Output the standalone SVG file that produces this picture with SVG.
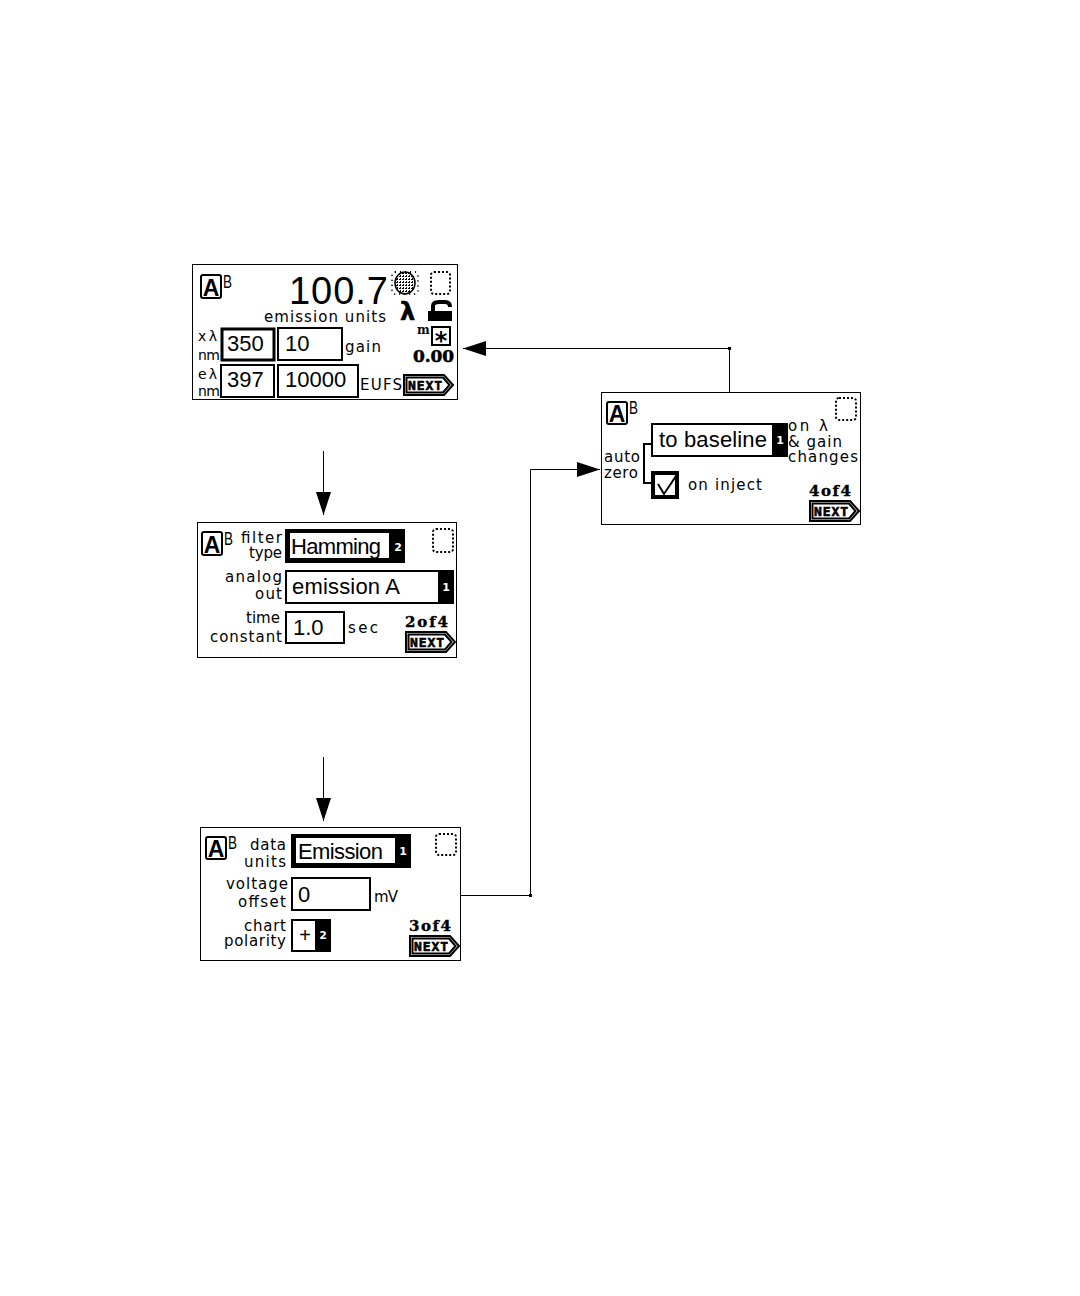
<svg xmlns="http://www.w3.org/2000/svg" width="1080" height="1296" viewBox="0 0 1080 1296">
<style>
text{font-family:"DejaVu Sans","Liberation Sans",sans-serif;fill:#000}
.panel{fill:#fff;stroke:#000;stroke-width:1}
.box{fill:#fff;stroke:#000;stroke-width:2}
.thick{fill:#fff;stroke:#000;stroke-width:4}
.black{fill:#000;stroke:none}
.dot{fill:none;stroke:#000;stroke-width:2;stroke-dasharray:2 2}
.lab{font-size:15px}
.r{text-anchor:end}
.val{font-family:"Liberation Sans",sans-serif;font-size:22px}
.idx{font-size:11px;font-weight:bold;fill:#fff;text-anchor:middle}
.logoA{font-family:"Liberation Sans",sans-serif;font-size:23px;font-weight:bold;text-anchor:middle}
.logoB{font-family:"Liberation Sans",sans-serif;font-size:19px}
.logoBox{fill:#fff;stroke:#000;stroke-width:2}
.page{font-family:"DejaVu Serif",serif;font-size:15px;font-weight:bold;stroke:#000;stroke-width:.4}
.nxt{font-family:"DejaVu Sans Mono",monospace;font-size:13px;font-weight:bold;stroke:#000;stroke-width:.6}
.nextshape{fill:#fff;stroke:#000;stroke-width:2}
.conn{fill:none;stroke:#000;stroke-width:1}
</style>
<defs>
<marker id="arrow" markerUnits="userSpaceOnUse" markerWidth="24" markerHeight="16" refX="23" refY="7.500" orient="auto">
<path d="M0 0L23 7.500L0 15Z" fill="#000"/>
</marker>
<pattern id="hatch" width="3" height="3" patternUnits="userSpaceOnUse">
<rect width="3" height="3" fill="#fff"/><rect width="2" height="1" fill="#000"/><rect y="2" x="1" width="1" height="1" fill="#000"/>
</pattern>
<path id="nextPath" d="M0 0H40L49 10L40 20H0ZM2.500 2.500H39L45.500 10L39 17.500H2.500Z"/>
</defs>

<g id="connectors">
<path class="conn" d="M323.500 451V515" marker-end="url(#arrow)"/>
<path class="conn" d="M323.500 757V821" marker-end="url(#arrow)"/>
<path class="conn" d="M461 895.500H530.500V469.500H600" marker-end="url(#arrow)"/>
<path class="conn" d="M729.500 392V348.500H463" marker-end="url(#arrow)"/>
<rect x="529" y="894" width="3" height="3" fill="#000"/>
<rect x="728" y="347" width="3" height="3" fill="#000"/>
</g>

<g id="panel-1">
<rect class="panel" x="192.500" y="264.500" width="265" height="135"/>
<rect class="logoBox" x="201" y="275" width="20" height="23" rx="2"/>
<text class="logoA" x="211" y="296">A</text><text class="logoB" x="223" y="288" textLength="9" lengthAdjust="spacingAndGlyphs">B</text>
<text x="289" y="304" style="font-family:'Liberation Sans',sans-serif;font-size:38px" textLength="99">100.7</text>
<ellipse cx="405" cy="283" rx="10" ry="11" fill="url(#hatch)" stroke="#000" stroke-width="1.500"/>
<rect class="dot" x="392" y="272" width="26" height="22" rx="3" style="stroke-dasharray:1 4"/>
<rect class="dot" x="431" y="272" width="19" height="22" rx="3"/>
<text x="400" y="320" style="font-family:'DejaVu Sans',sans-serif;font-size:24px;font-weight:bold;stroke:#000;stroke-width:.5">λ</text>
<path d="M428 321V311H452V321Z" fill="#000"/><path d="M433 311V306Q433 302 439 302H445Q450 302 450 307" fill="none" stroke="#000" stroke-width="4"/>
<text class="lab" x="264" y="322" textLength="122">emission units</text>
<text x="198" y="341" style="font-size:14px" textLength="19">xλ</text>
<text x="198" y="360" style="font-size:14px" textLength="22">nm</text>
<rect class="thick" x="222" y="329" width="52" height="31" style="stroke-width:3"/>
<text class="val" x="227" y="351">350</text>
<rect class="box" x="278" y="328" width="64" height="32"/>
<text class="val" x="285" y="351">10</text>
<text class="lab" x="345" y="352" textLength="36">gain</text>
<text x="417" y="334" style="font-family:'DejaVu Serif',serif;font-size:12px;font-weight:bold">m</text>
<rect class="box" x="432" y="327" width="18" height="18"/>
<text x="441" y="349" style="font-size:24px;font-weight:bold;text-anchor:middle">*</text>
<text x="413" y="362" style="font-family:'DejaVu Serif',serif;font-size:17px;font-weight:bold;stroke:#000;stroke-width:.5" textLength="41">0.00</text>
<text x="198" y="379" style="font-size:14px" textLength="19">eλ</text>
<text x="198" y="396" style="font-size:14px" textLength="22">nm</text>
<rect class="box" x="221" y="365" width="53" height="32"/>
<text class="val" x="227" y="387">397</text>
<rect class="box" x="278" y="365" width="80" height="32"/>
<text class="val" x="285" y="387">10000</text>
<text class="lab" x="360" y="390" textLength="42">EUFS</text>
<g transform="translate(404 375)"><use href="#nextPath" class="nextshape" fill-rule="evenodd"/></g>
<text class="nxt" x="408" y="390" textLength="34">NEXT</text>
</g>

<g id="panel-2">
<rect class="panel" x="197.500" y="522.500" width="259" height="135"/>
<rect class="logoBox" x="202" y="532" width="20" height="23" rx="2"/>
<text class="logoA" x="212" y="553">A</text><text class="logoB" x="224" y="545" textLength="9" lengthAdjust="spacingAndGlyphs">B</text>
<text class="lab r" x="282" y="543" textLength="41">filter</text>
<text class="lab r" x="282" y="558" textLength="33">type</text>
<rect class="black" x="285" y="529" width="120" height="34"/>
<rect x="290" y="533" width="99" height="25" fill="#fff"/>
<text class="val" x="291" y="554" textLength="90">Hamming</text>
<text class="idx" x="398" y="551">2</text>
<rect class="dot" x="433" y="529" width="20" height="23" rx="3"/>
<text class="lab r" x="282" y="582" textLength="57">analog</text>
<text class="lab r" x="282" y="599" textLength="27">out</text>
<rect class="box" x="286" y="571" width="167" height="32"/>
<rect class="black" x="438" y="570" width="16" height="34"/>
<text class="val" x="292" y="594" textLength="108">emission A</text>
<text class="idx" x="446" y="591">1</text>
<text class="lab r" x="280" y="623" textLength="34">time</text>
<text class="lab r" x="282" y="642" textLength="72">constant</text>
<rect class="box" x="286" y="612" width="58" height="31"/>
<text class="val" x="293" y="635">1.0</text>
<text class="lab" x="348" y="633" textLength="30">sec</text>
<text class="page" x="405" y="627" textLength="43">2of4</text>
<g transform="translate(406 632)"><use href="#nextPath" class="nextshape" fill-rule="evenodd"/></g>
<text class="nxt" x="410" y="647" textLength="34">NEXT</text>
</g>

<g id="panel-3">
<rect class="panel" x="200.500" y="827.500" width="260" height="133"/>
<rect class="logoBox" x="206" y="837" width="20" height="22" rx="2"/>
<text class="logoA" x="216" y="857">A</text><text class="logoB" x="228" y="849" textLength="9" lengthAdjust="spacingAndGlyphs">B</text>
<text class="lab r" x="286" y="850" textLength="36">data</text>
<text class="lab r" x="286" y="867" textLength="42">units</text>
<rect class="black" x="291" y="834" width="120" height="34"/>
<rect x="296" y="838" width="99" height="25" fill="#fff"/>
<text class="val" x="298" y="859" textLength="85">Emission</text>
<text class="idx" x="403" y="855">1</text>
<rect class="dot" x="436" y="834" width="20" height="21" rx="3"/>
<text class="lab r" x="288" y="889" textLength="62">voltage</text>
<text class="lab r" x="286" y="907" textLength="48">offset</text>
<rect class="box" x="292" y="878" width="78" height="32"/>
<text class="val" x="298" y="902">0</text>
<text class="lab" x="374" y="902" textLength="24">mV</text>
<text class="lab r" x="286" y="931" textLength="42">chart</text>
<text class="lab r" x="286" y="946" textLength="62">polarity</text>
<rect class="box" x="292" y="920" width="38" height="31"/>
<rect class="black" x="315" y="919" width="16" height="33"/>
<text x="305" y="942" style="font-family:'Liberation Sans',sans-serif;font-size:20px;text-anchor:middle">+</text>
<text class="idx" x="323" y="939">2</text>
<text class="page" x="409" y="931" textLength="42">3of4</text>
<g transform="translate(410 936)"><use href="#nextPath" class="nextshape" fill-rule="evenodd"/></g>
<text class="nxt" x="414" y="951" textLength="34">NEXT</text>
</g>

<g id="panel-4">
<rect class="panel" x="601.500" y="392.500" width="259" height="132"/>
<rect class="logoBox" x="607" y="402" width="20" height="22" rx="2"/>
<text class="logoA" x="617" y="422">A</text><text class="logoB" x="629" y="414" textLength="9" lengthAdjust="spacingAndGlyphs">B</text>
<rect class="dot" x="836" y="398" width="20" height="22" rx="3"/>
<path d="M652 444H644V483H652" fill="none" stroke="#000" stroke-width="2"/>
<rect class="box" x="652" y="424" width="134" height="32"/>
<rect class="black" x="772" y="423" width="16" height="34"/>
<text class="val" x="659" y="447" textLength="108">to baseline</text>
<text class="idx" x="780" y="444">1</text>
<text class="lab" x="788" y="431" textLength="40">on λ</text>
<text class="lab" x="788" y="447" textLength="54">&amp; gain</text>
<text class="lab" x="788" y="462" textLength="70">changes</text>
<text class="lab" x="604" y="462" textLength="36">auto</text>
<text class="lab" x="604" y="478" textLength="34">zero</text>
<rect class="thick" x="653" y="473" width="24" height="24"/>
<path d="M658 484L664 494L676 476" fill="none" stroke="#000" stroke-width="2"/>
<text class="lab" x="688" y="490" textLength="74">on inject</text>
<text class="page" x="809" y="496" textLength="42">4of4</text>
<g transform="translate(810 501)"><use href="#nextPath" class="nextshape" fill-rule="evenodd"/></g>
<text class="nxt" x="814" y="516" textLength="34">NEXT</text>
</g>
</svg>
